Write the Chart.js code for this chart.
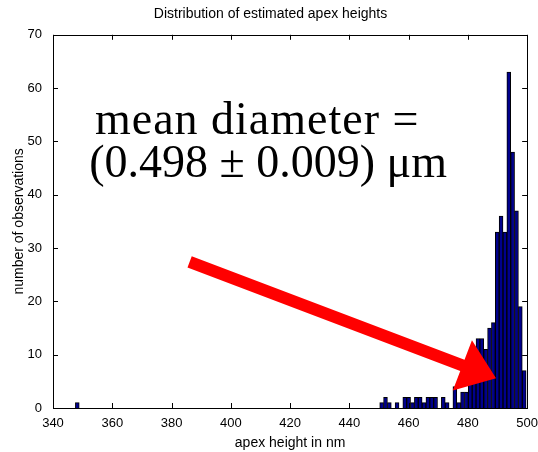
<!DOCTYPE html>
<html>
<head>
<meta charset="utf-8">
<script src="https://cdn.jsdelivr.net/npm/chart.js@4.4.0/dist/chart.umd.min.js"></script>
<style>
  body { margin: 0; background: #fff; }
  canvas { display: block; }
</style>
</head>
<body>
<canvas id="histChart" width="538" height="452"></canvas>
<script>
// histogram bins (nm) and counts; empty bins are left out
const binCenters = [
  348.2,
  450.9, 452.2, 453.5, 456.1, 458.7, 460.0, 461.3, 462.6, 463.9, 465.2,
  466.5, 467.8, 469.1, 471.7, 473.0, 475.6, 476.9, 478.2, 479.5, 480.8,
  482.1, 483.4, 484.7, 486.0, 487.3, 488.6, 489.9, 491.2, 492.5, 493.8,
  495.1, 496.4, 497.7, 499.0
];
const counts = [
  1,
  1, 2, 1, 1, 2, 2, 1, 2, 2, 1,
  2, 2, 2, 2, 1, 4, 1, 3, 3, 5,
  9, 13, 13, 11, 15, 16, 33, 36, 33, 63,
  48, 37, 19, 7
];

const xTickValues = [340, 360, 380, 400, 420, 440, 460, 480, 500];
const yTickValues = [0, 10, 20, 30, 40, 50, 60, 70];

const chartTitle = 'Distribution of estimated apex heights';
const xTitle = 'apex height in nm';
const yTitle = 'number of observations';
const noteLines = ['mean diameter =', '(0.498 \u00b1 0.009) \u03bcm'];
// where the note and arrow sit, in data units (x nm, y count)
const notePos = [[408.9, 51.4], [412.6, 43.4]];
const arrowFrom = [386.1, 27.4];
const arrowTo = [489.5, 5.6];

Chart.defaults.font.family = '"Liberation Sans", Arial, sans-serif';
Chart.defaults.color = '#000';

// matlab style box with inward ticks on all four sides
const plotBox = {
    id: 'plotBox',
    afterDatasetsDraw(chart) {
        const ctx = chart.ctx;
        const a = chart.chartArea;
        const xs = chart.scales.x, ys = chart.scales.y;
        const len = 5;
        ctx.save();
        ctx.strokeStyle = '#000';
        ctx.lineWidth = 1;
        ctx.strokeRect(Math.round(a.left) + 0.5, Math.round(a.top) + 0.5,
            Math.round(a.right - a.left), Math.round(a.bottom - a.top));
        ctx.beginPath();
        xTickValues.forEach(v => {
            const px = Math.round(xs.getPixelForValue(v)) + 0.5;
            ctx.moveTo(px, a.bottom); ctx.lineTo(px, a.bottom - len);
            ctx.moveTo(px, a.top); ctx.lineTo(px, a.top + len);
        });
        yTickValues.forEach(v => {
            const py = Math.round(ys.getPixelForValue(v)) + 0.5;
            ctx.moveTo(a.left, py); ctx.lineTo(a.left + len, py);
            ctx.moveTo(a.right, py); ctx.lineTo(a.right - len, py);
        });
        ctx.stroke();
        ctx.restore();
    }
};

const annotations = {
    id: 'annotations',
    afterDraw(chart) {
        const ctx = chart.ctx;
        const xs = chart.scales.x, ys = chart.scales.y;
        ctx.save();

        // red arrow
        const x0 = xs.getPixelForValue(arrowFrom[0]), y0 = ys.getPixelForValue(arrowFrom[1]);
        const x1 = xs.getPixelForValue(arrowTo[0]), y1 = ys.getPixelForValue(arrowTo[1]);
        const dx = x1 - x0, dy = y1 - y0;
        const L = Math.hypot(dx, dy);
        const ux = dx / L, uy = dy / L, nx = -uy, ny = ux;
        const headLen = 36, headHalf = 27, shaftHalf = 6;
        const bx = x1 - ux * headLen, by = y1 - uy * headLen;
        ctx.fillStyle = '#ff0000';
        ctx.beginPath();
        ctx.moveTo(x0 + nx * shaftHalf, y0 + ny * shaftHalf);
        ctx.lineTo(bx + nx * shaftHalf, by + ny * shaftHalf);
        ctx.lineTo(bx + nx * headHalf, by + ny * headHalf);
        ctx.lineTo(x1, y1);
        ctx.lineTo(bx - nx * headHalf, by - ny * headHalf);
        ctx.lineTo(bx - nx * shaftHalf, by - ny * shaftHalf);
        ctx.lineTo(x0 - nx * shaftHalf, y0 - ny * shaftHalf);
        ctx.closePath();
        ctx.fill();

        // big note text
        ctx.fillStyle = '#000';
        ctx.textAlign = 'center';
        ctx.textBaseline = 'alphabetic';
        ctx.font = '46px "Liberation Serif", "Times New Roman", serif';
        ctx.letterSpacing = '1px';
        ctx.fillText(noteLines[0], xs.getPixelForValue(notePos[0][0]), ys.getPixelForValue(notePos[0][1]));
        ctx.letterSpacing = '0px';
        ctx.fillText(noteLines[1], xs.getPixelForValue(notePos[1][0]), ys.getPixelForValue(notePos[1][1]));
        ctx.restore();
    }
};

const ctx = document.getElementById('histChart').getContext('2d');

const histChart = new Chart(ctx, {
    type: 'bar',
    data: {
        datasets: [{
            label: 'observations',
            data: binCenters.map((x, i) => ({ x: x, y: counts[i] })),
            backgroundColor: '#00008c',
            borderColor: '#000',
            borderWidth: 1,
            barPercentage: 1.0,
            categoryPercentage: 1.0
        }]
    },
    options: {
        responsive: false,
        animation: false,
        layout: { padding: { left: 11, right: 8, top: 0, bottom: 0 } },
        plugins: {
            legend: { display: false },
            tooltip: { enabled: false },
            title: {
                display: true,
                text: chartTitle,
                color: '#000',
                font: { size: 14, weight: 'normal' },
                padding: { top: 6, bottom: 12 }
            }
        },
        scales: {
            x: {
                type: 'linear',
                min: 340,
                max: 500,
                offset: false,
                grid: { display: false },
                border: { display: false },
                afterBuildTicks: s => { s.ticks = xTickValues.map(v => ({ value: v })); },
                afterFit: s => { s.height = 44; },
                ticks: { padding: 0, font: { size: 13 }, maxRotation: 0, autoSkip: false },
                title: { display: true, text: xTitle, font: { size: 14 }, padding: { top: 1, bottom: 0 } }
            },
            y: {
                min: 0,
                max: 70,
                grid: { display: false },
                border: { display: false },
                afterBuildTicks: s => { s.ticks = yTickValues.map(v => ({ value: v })); },
                afterFit: s => { s.width = 42; },
                ticks: { padding: 3, font: { size: 13 } },
                title: { display: true, text: yTitle, font: { size: 14 }, padding: { top: 0, bottom: 0 } }
            }
        }
    },
    plugins: [plotBox, annotations]
});
</script>
</body>
</html>
